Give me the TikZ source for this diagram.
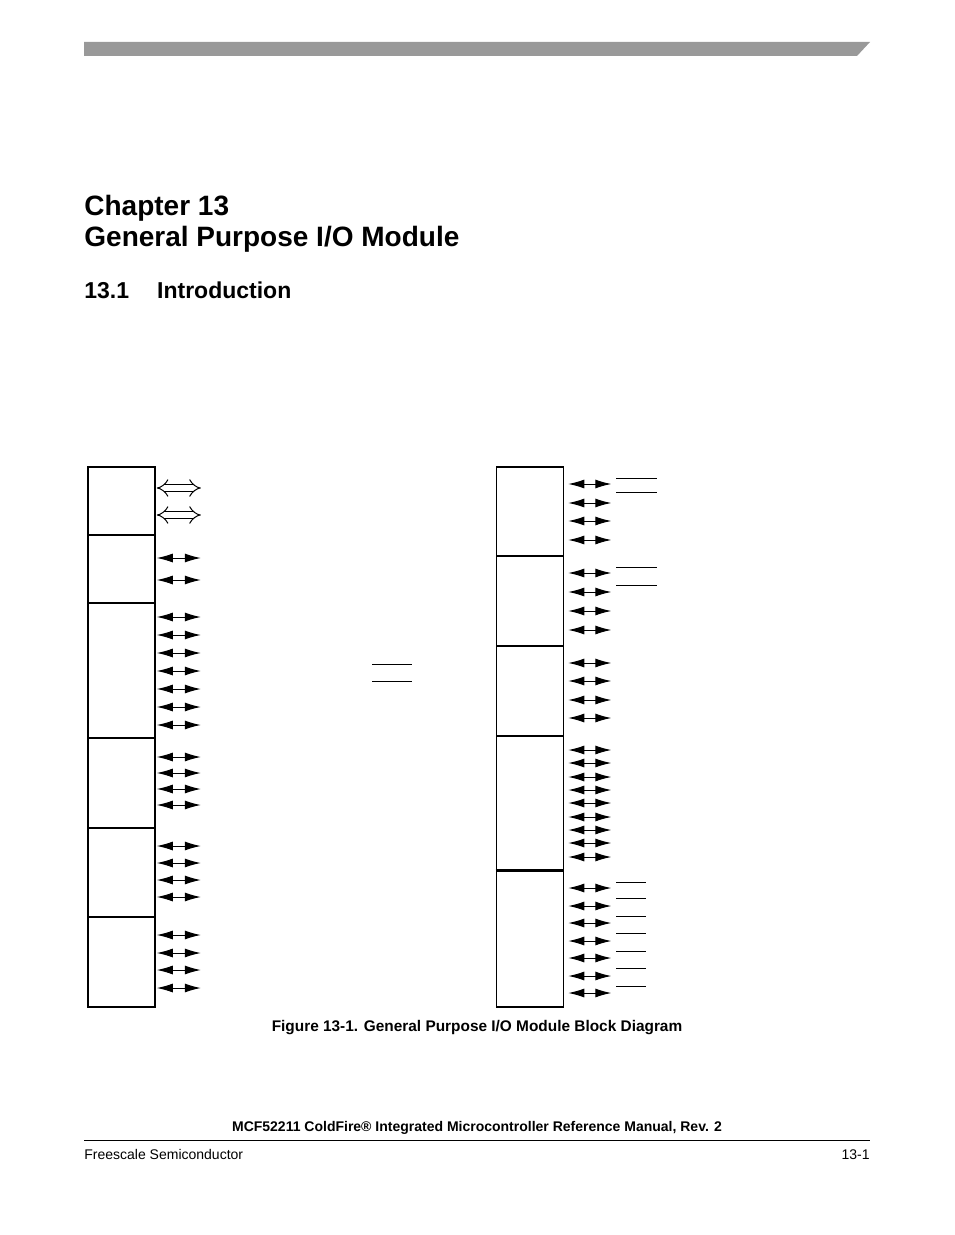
\documentclass[tikz,border=0pt]{standalone}
\usepackage{fontspec}
\setmainfont{Liberation Sans}
\usetikzlibrary{arrows.meta,calc}
\definecolor{headgrey}{RGB}{153,153,153}
\tikzset{
  % module blocks
  blk/.style={draw, line width=0.8pt, minimum width=33.5pt, inner sep=0pt},
  % pin arrows
  biarr/.style={{Latex[length=8pt,width=4.5pt]}-{Latex[length=8pt,width=4.5pt]}, line width=0.5pt},
  busarr/.style={{Implies[length=5pt]}-{Implies[length=5pt]}, double, double distance=2.6pt, line width=0.5pt},
  % overbars
  bar/.style={line width=0.5pt},
  txt/.style={inner sep=0pt, anchor=base west},
}
\begin{document}
\begin{tikzpicture}[x=0.5pt, y=-0.5pt]
        \useasboundingbox (0,0) rectangle (954,1235);

        % Header bar
        \fill[headgrey] (84,42) -- (870,42) -- (857,56) -- (84,56) -- cycle;

        % Titles
        \node[txt, font=\fontsize{14}{16}\selectfont\bfseries] (chap) at (84,216) {Chapter 13};
        \node[txt, font=\fontsize{14}{16}\selectfont\bfseries] (title) at (84,247) {General Purpose I/O Module};
        \node[txt, font=\fontsize{11.5}{14}\selectfont\bfseries] (sec) at (84,299) {13.1\hspace{14pt}Introduction};

        % Left blocks
        \foreach \n/\t/\b in {l1/467/535, l2/535/603, l3/603/738, l4/738/828, l5/828/917, l6/917/1007} {
            \node[blk, minimum height={(\b-\t)*0.5pt}] (\n) at (121.5,{(\t+\b)/2}) {};
        }

        % Right blocks
        \foreach \n/\t/\b in {r1/467/556, r2/556/646, r3/646/736, r4/736/871, r5/871/1007} {
            \node[blk, minimum height={(\b-\t)*0.5pt}] (\n) at (530,{(\t+\b)/2}) {};
        }
        \draw[line width=1.2pt] (r5.north west) -- (r5.north east);

        % Left pins
        \foreach \y in {488,515} {
            \draw[busarr] (l1.east |- {0,\y}) ++(1,0) -- ++(44,0);
        }
        \foreach \b/\ys in {l2/{558,580}, l3/{617,635,653,671,689,707,725}, l4/{757,773,789,805}, l5/{846,863,880,897}, l6/{935,953,970,988}} {
            \foreach \y in \ys {
                \draw[biarr] (\b.east |- {0,\y}) ++(1,0) -- ++(44,0);
            }
        }

        % Right pins
        \foreach \b/\ys in {r1/{484,503,521,540}, r2/{573,592,611,630}, r3/{663,681,700,718}, r4/{750,763,777,790,803,817,830,843,857}, r5/{888,906,923,941,958,976,993}} {
            \foreach \y in \ys {
                \draw[biarr] (\b.east |- {0,\y}) ++(4,0) -- ++(43,0);
            }
        }

        % Overbars
        \foreach \y in {664,681} \draw[bar] (372,\y) -- (412,\y);
        \foreach \y in {478,492,567,585} \draw[bar] (616,\y) -- (657,\y);
        \foreach \y in {882,898,916,933,951,968,986} \draw[bar] (616,\y) -- (646,\y);

        % Caption
        \node[inner sep=0pt, anchor=base, font=\fontsize{7.7}{9}\selectfont\bfseries] (cap) at (477,1031) {Figure 13-1. General Purpose I/O Module Block Diagram};

        % Footer
        \node[inner sep=0pt, anchor=base, font=\fontsize{7}{9}\selectfont\bfseries] (man) at (477,1131) {MCF52211 ColdFire\textregistered{} Integrated Microcontroller Reference Manual, Rev. 2};
        \draw[line width=0.4pt] (84,1140) -- (870,1140);
        \node[txt, font=\fontsize{7}{9}\selectfont] (fsl) at (84,1159) {Freescale Semiconductor};
        \node[inner sep=0pt, anchor=base east, font=\fontsize{7}{9}\selectfont] (pg) at (870,1159) {13-1};
    \end{tikzpicture}
\end{document}
